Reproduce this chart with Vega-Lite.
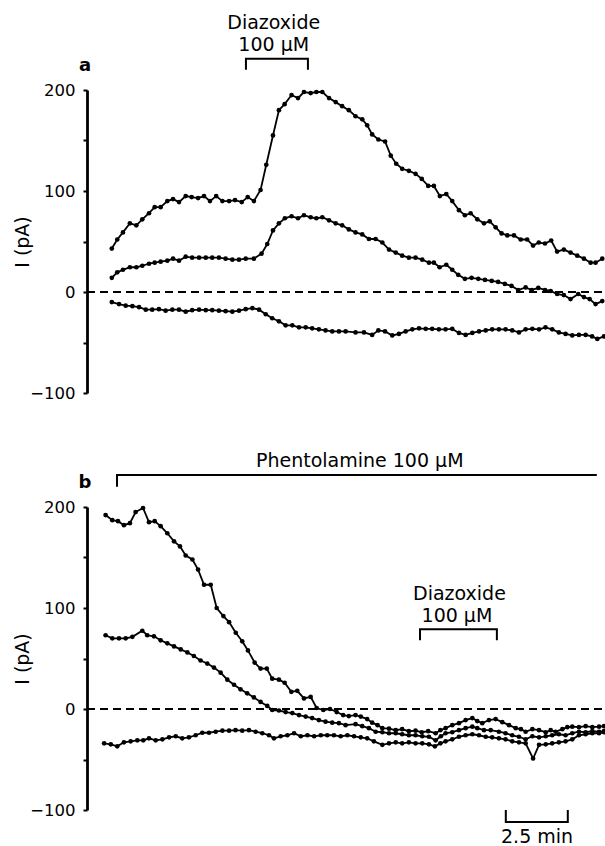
{
  "$schema": "https://vega.github.io/schema/vega-lite/v6.json",
  "padding": {"left": 13, "top": 14, "right": 0, "bottom": 0},
  "background": "white",
  "config": {
    "view": {"stroke": null},
    "font": "DejaVu Sans",
    "axis": {"grid": false}
  },
  "datasets": {
    "zero": [{"t0": 0, "t1": 20.85, "v": 0}],
    "ticks": [{"v": -100}, {"v": -50}, {"v": 0}, {"v": 50}, {"v": 100}, {"v": 150}, {"v": 200}],
    "a_traces": [
      {"s":"a1","t":1.00,"v":43},{"s":"a1","t":1.22,"v":52},{"s":"a1","t":1.45,"v":59},{"s":"a1","t":1.73,"v":68},{"s":"a1","t":1.99,"v":66},{"s":"a1","t":2.23,"v":72},{"s":"a1","t":2.50,"v":78},{"s":"a1","t":2.73,"v":84},{"s":"a1","t":2.97,"v":84},{"s":"a1","t":3.24,"v":90},{"s":"a1","t":3.47,"v":92},{"s":"a1","t":3.71,"v":89},{"s":"a1","t":3.98,"v":95},{"s":"a1","t":4.22,"v":94},{"s":"a1","t":4.48,"v":93},{"s":"a1","t":4.72,"v":95},{"s":"a1","t":4.96,"v":90},{"s":"a1","t":5.21,"v":95},{"s":"a1","t":5.46,"v":90},{"s":"a1","t":5.73,"v":90},{"s":"a1","t":5.97,"v":91},{"s":"a1","t":6.24,"v":89},{"s":"a1","t":6.48,"v":94},{"s":"a1","t":6.73,"v":90},{"s":"a1","t":7.00,"v":101},{"s":"a1","t":7.23,"v":126},{"s":"a1","t":7.50,"v":155},{"s":"a1","t":7.74,"v":180},{"s":"a1","t":7.97,"v":186},{"s":"a1","t":8.25,"v":195},{"s":"a1","t":8.51,"v":192},{"s":"a1","t":8.75,"v":198},{"s":"a1","t":9.02,"v":197},{"s":"a1","t":9.25,"v":198},{"s":"a1","t":9.49,"v":198},{"s":"a1","t":9.76,"v":192},{"s":"a1","t":10.03,"v":188},{"s":"a1","t":10.29,"v":184},{"s":"a1","t":10.56,"v":180},{"s":"a1","t":10.83,"v":174},{"s":"a1","t":11.10,"v":171},{"s":"a1","t":11.30,"v":165},{"s":"a1","t":11.50,"v":156},{"s":"a1","t":11.75,"v":151},{"s":"a1","t":12.02,"v":149},{"s":"a1","t":12.25,"v":135},{"s":"a1","t":12.47,"v":127},{"s":"a1","t":12.71,"v":122},{"s":"a1","t":12.98,"v":120},{"s":"a1","t":13.25,"v":117},{"s":"a1","t":13.50,"v":112},{"s":"a1","t":13.76,"v":105},{"s":"a1","t":13.99,"v":105},{"s":"a1","t":14.23,"v":95},{"s":"a1","t":14.49,"v":97},{"s":"a1","t":14.73,"v":90},{"s":"a1","t":15.00,"v":81},{"s":"a1","t":15.24,"v":76},{"s":"a1","t":15.47,"v":78},{"s":"a1","t":15.74,"v":72},{"s":"a1","t":16.01,"v":68},{"s":"a1","t":16.24,"v":70},{"s":"a1","t":16.48,"v":64},{"s":"a1","t":16.72,"v":58},{"s":"a1","t":16.95,"v":56},{"s":"a1","t":17.22,"v":56},{"s":"a1","t":17.49,"v":52},{"s":"a1","t":17.75,"v":52},{"s":"a1","t":17.99,"v":46},{"s":"a1","t":18.22,"v":49},{"s":"a1","t":18.47,"v":48},{"s":"a1","t":18.72,"v":51},{"s":"a1","t":18.96,"v":40},{"s":"a1","t":19.23,"v":42},{"s":"a1","t":19.50,"v":39},{"s":"a1","t":19.77,"v":36},{"s":"a1","t":20.04,"v":33},{"s":"a1","t":20.31,"v":29},{"s":"a1","t":20.51,"v":29},{"s":"a1","t":20.78,"v":33},
      {"s":"a2","t":1.00,"v":14},{"s":"a2","t":1.22,"v":19.5},{"s":"a2","t":1.45,"v":22},{"s":"a2","t":1.73,"v":24.5},{"s":"a2","t":1.99,"v":24.5},{"s":"a2","t":2.23,"v":26},{"s":"a2","t":2.50,"v":28},{"s":"a2","t":2.73,"v":29},{"s":"a2","t":2.97,"v":30},{"s":"a2","t":3.24,"v":31},{"s":"a2","t":3.47,"v":33},{"s":"a2","t":3.71,"v":31},{"s":"a2","t":3.98,"v":35},{"s":"a2","t":4.24,"v":34},{"s":"a2","t":4.52,"v":34},{"s":"a2","t":4.79,"v":34},{"s":"a2","t":5.05,"v":34},{"s":"a2","t":5.32,"v":34},{"s":"a2","t":5.59,"v":33},{"s":"a2","t":5.86,"v":32},{"s":"a2","t":6.13,"v":32},{"s":"a2","t":6.40,"v":33},{"s":"a2","t":6.73,"v":33},{"s":"a2","t":7.04,"v":38},{"s":"a2","t":7.27,"v":47.5},{"s":"a2","t":7.50,"v":61},{"s":"a2","t":7.74,"v":68},{"s":"a2","t":7.98,"v":73},{"s":"a2","t":8.25,"v":75},{"s":"a2","t":8.51,"v":73},{"s":"a2","t":8.75,"v":76},{"s":"a2","t":9.02,"v":74},{"s":"a2","t":9.25,"v":73},{"s":"a2","t":9.49,"v":74},{"s":"a2","t":9.76,"v":71},{"s":"a2","t":10.03,"v":68},{"s":"a2","t":10.29,"v":66},{"s":"a2","t":10.56,"v":62},{"s":"a2","t":10.83,"v":59},{"s":"a2","t":11.10,"v":57},{"s":"a2","t":11.37,"v":52.5},{"s":"a2","t":11.64,"v":52.5},{"s":"a2","t":11.91,"v":49},{"s":"a2","t":12.18,"v":42},{"s":"a2","t":12.45,"v":39},{"s":"a2","t":12.71,"v":36},{"s":"a2","t":12.98,"v":34},{"s":"a2","t":13.25,"v":34},{"s":"a2","t":13.52,"v":32},{"s":"a2","t":13.79,"v":29},{"s":"a2","t":13.99,"v":29},{"s":"a2","t":14.22,"v":24.5},{"s":"a2","t":14.49,"v":27},{"s":"a2","t":14.73,"v":22},{"s":"a2","t":14.97,"v":17},{"s":"a2","t":15.24,"v":13},{"s":"a2","t":15.51,"v":14},{"s":"a2","t":15.78,"v":13},{"s":"a2","t":16.05,"v":12},{"s":"a2","t":16.32,"v":11},{"s":"a2","t":16.58,"v":10},{"s":"a2","t":16.85,"v":8},{"s":"a2","t":17.12,"v":6},{"s":"a2","t":17.39,"v":2},{"s":"a2","t":17.69,"v":4.5},{"s":"a2","t":17.93,"v":2},{"s":"a2","t":18.20,"v":4},{"s":"a2","t":18.47,"v":2},{"s":"a2","t":18.70,"v":1},{"s":"a2","t":18.96,"v":-2},{"s":"a2","t":19.23,"v":-3},{"s":"a2","t":19.50,"v":-7},{"s":"a2","t":19.81,"v":-2},{"s":"a2","t":20.04,"v":-5},{"s":"a2","t":20.27,"v":-7},{"s":"a2","t":20.51,"v":-12},{"s":"a2","t":20.78,"v":-9},
      {"s":"a3","t":1.00,"v":-10},{"s":"a3","t":1.29,"v":-12},{"s":"a3","t":1.56,"v":-13.5},{"s":"a3","t":1.83,"v":-14},{"s":"a3","t":2.10,"v":-15},{"s":"a3","t":2.37,"v":-17.5},{"s":"a3","t":2.63,"v":-17.5},{"s":"a3","t":2.90,"v":-17},{"s":"a3","t":3.17,"v":-18.5},{"s":"a3","t":3.44,"v":-17.5},{"s":"a3","t":3.71,"v":-17.5},{"s":"a3","t":3.98,"v":-19.5},{"s":"a3","t":4.24,"v":-18},{"s":"a3","t":4.52,"v":-17.5},{"s":"a3","t":4.79,"v":-18},{"s":"a3","t":5.05,"v":-18},{"s":"a3","t":5.32,"v":-18.5},{"s":"a3","t":5.59,"v":-19},{"s":"a3","t":5.86,"v":-19.5},{"s":"a3","t":6.13,"v":-18.5},{"s":"a3","t":6.40,"v":-17},{"s":"a3","t":6.67,"v":-16},{"s":"a3","t":6.94,"v":-17.5},{"s":"a3","t":7.21,"v":-22},{"s":"a3","t":7.47,"v":-26},{"s":"a3","t":7.74,"v":-29},{"s":"a3","t":8.01,"v":-33},{"s":"a3","t":8.28,"v":-33},{"s":"a3","t":8.55,"v":-35},{"s":"a3","t":8.82,"v":-35},{"s":"a3","t":9.08,"v":-36},{"s":"a3","t":9.35,"v":-37},{"s":"a3","t":9.62,"v":-38},{"s":"a3","t":9.89,"v":-39},{"s":"a3","t":10.16,"v":-39},{"s":"a3","t":10.43,"v":-39},{"s":"a3","t":10.83,"v":-40},{"s":"a3","t":11.17,"v":-40},{"s":"a3","t":11.50,"v":-42.5},{"s":"a3","t":11.75,"v":-38},{"s":"a3","t":12.02,"v":-39},{"s":"a3","t":12.31,"v":-43},{"s":"a3","t":12.58,"v":-41.5},{"s":"a3","t":12.85,"v":-39},{"s":"a3","t":13.12,"v":-37},{"s":"a3","t":13.39,"v":-36},{"s":"a3","t":13.66,"v":-36.5},{"s":"a3","t":13.92,"v":-36.5},{"s":"a3","t":14.19,"v":-37},{"s":"a3","t":14.46,"v":-37},{"s":"a3","t":14.73,"v":-36.5},{"s":"a3","t":15.00,"v":-40.5},{"s":"a3","t":15.27,"v":-42.5},{"s":"a3","t":15.54,"v":-40.5},{"s":"a3","t":15.81,"v":-39},{"s":"a3","t":16.08,"v":-38},{"s":"a3","t":16.34,"v":-37},{"s":"a3","t":16.61,"v":-37},{"s":"a3","t":16.88,"v":-37},{"s":"a3","t":17.15,"v":-38},{"s":"a3","t":17.42,"v":-40},{"s":"a3","t":17.69,"v":-37},{"s":"a3","t":17.96,"v":-36.5},{"s":"a3","t":18.23,"v":-37},{"s":"a3","t":18.49,"v":-35},{"s":"a3","t":18.76,"v":-37},{"s":"a3","t":19.03,"v":-40},{"s":"a3","t":19.30,"v":-41.5},{"s":"a3","t":19.57,"v":-43},{"s":"a3","t":19.84,"v":-42.5},{"s":"a3","t":20.11,"v":-42.5},{"s":"a3","t":20.37,"v":-44},{"s":"a3","t":20.58,"v":-46.5},{"s":"a3","t":20.85,"v":-44}
    ],
    "b_traces": [
      {"s":"b1","t":0.75,"v":192},{"s":"b1","t":1.02,"v":187},{"s":"b1","t":1.25,"v":186},{"s":"b1","t":1.49,"v":182},{"s":"b1","t":1.73,"v":184},{"s":"b1","t":1.96,"v":195},{"s":"b1","t":2.26,"v":199},{"s":"b1","t":2.50,"v":185},{"s":"b1","t":2.73,"v":186},{"s":"b1","t":2.97,"v":181},{"s":"b1","t":3.24,"v":174},{"s":"b1","t":3.51,"v":166},{"s":"b1","t":3.75,"v":161},{"s":"b1","t":3.98,"v":152},{"s":"b1","t":4.25,"v":148},{"s":"b1","t":4.48,"v":138},{"s":"b1","t":4.72,"v":123},{"s":"b1","t":4.99,"v":123},{"s":"b1","t":5.23,"v":100},{"s":"b1","t":5.50,"v":92},{"s":"b1","t":5.73,"v":86},{"s":"b1","t":6.00,"v":75.5},{"s":"b1","t":6.26,"v":67},{"s":"b1","t":6.49,"v":58},{"s":"b1","t":6.76,"v":46},{"s":"b1","t":7.00,"v":40},{"s":"b1","t":7.25,"v":40},{"s":"b1","t":7.47,"v":30},{"s":"b1","t":7.74,"v":29},{"s":"b1","t":7.97,"v":26},{"s":"b1","t":8.24,"v":17},{"s":"b1","t":8.48,"v":18},{"s":"b1","t":8.75,"v":10.5},{"s":"b1","t":9.02,"v":12},{"s":"b1","t":9.26,"v":1},{"s":"b1","t":9.53,"v":-1},{"s":"b1","t":9.80,"v":0},{"s":"b1","t":10.07,"v":-3},{"s":"b1","t":10.33,"v":-6},{"s":"b1","t":10.56,"v":-7},{"s":"b1","t":10.83,"v":-6},{"s":"b1","t":11.04,"v":-7.5},{"s":"b1","t":11.30,"v":-10},{"s":"b1","t":11.50,"v":-13.5},{"s":"b1","t":11.72,"v":-16},{"s":"b1","t":11.91,"v":-19},{"s":"b1","t":12.18,"v":-19.5},{"s":"b1","t":12.45,"v":-21},{"s":"b1","t":12.71,"v":-20},{"s":"b1","t":12.98,"v":-22},{"s":"b1","t":13.25,"v":-21.5},{"s":"b1","t":13.50,"v":-23},{"s":"b1","t":13.76,"v":-22},{"s":"b1","t":14.06,"v":-24},{"s":"b1","t":14.25,"v":-21},{"s":"b1","t":14.46,"v":-19},{"s":"b1","t":14.73,"v":-16},{"s":"b1","t":15.00,"v":-14},{"s":"b1","t":15.27,"v":-11},{"s":"b1","t":15.54,"v":-9},{"s":"b1","t":15.74,"v":-12},{"s":"b1","t":15.94,"v":-14},{"s":"b1","t":16.21,"v":-11},{"s":"b1","t":16.48,"v":-10},{"s":"b1","t":16.75,"v":-13},{"s":"b1","t":17.02,"v":-16},{"s":"b1","t":17.29,"v":-19},{"s":"b1","t":17.50,"v":-20},{"s":"b1","t":17.69,"v":-22.5},{"s":"b1","t":17.96,"v":-20},{"s":"b1","t":18.23,"v":-21},{"s":"b1","t":18.50,"v":-23},{"s":"b1","t":18.70,"v":-21},{"s":"b1","t":18.90,"v":-22.5},{"s":"b1","t":19.17,"v":-20},{"s":"b1","t":19.37,"v":-18},{"s":"b1","t":19.57,"v":-17.5},{"s":"b1","t":19.84,"v":-18},{"s":"b1","t":20.11,"v":-17},{"s":"b1","t":20.38,"v":-18},{"s":"b1","t":20.65,"v":-17.5},{"s":"b1","t":20.85,"v":-17},
      {"s":"b2","t":0.75,"v":73},{"s":"b2","t":1.02,"v":70},{"s":"b2","t":1.29,"v":70},{"s":"b2","t":1.56,"v":70},{"s":"b2","t":1.83,"v":71.5},{"s":"b2","t":2.23,"v":77.5},{"s":"b2","t":2.43,"v":73},{"s":"b2","t":2.70,"v":72},{"s":"b2","t":2.97,"v":68},{"s":"b2","t":3.24,"v":65},{"s":"b2","t":3.51,"v":62},{"s":"b2","t":3.78,"v":59},{"s":"b2","t":4.05,"v":56},{"s":"b2","t":4.31,"v":52.5},{"s":"b2","t":4.58,"v":48},{"s":"b2","t":4.85,"v":45},{"s":"b2","t":5.12,"v":41},{"s":"b2","t":5.39,"v":36},{"s":"b2","t":5.66,"v":29},{"s":"b2","t":5.93,"v":24},{"s":"b2","t":6.19,"v":19.5},{"s":"b2","t":6.46,"v":15.5},{"s":"b2","t":6.73,"v":11.5},{"s":"b2","t":7.00,"v":7},{"s":"b2","t":7.27,"v":3},{"s":"b2","t":7.47,"v":-1},{"s":"b2","t":7.74,"v":-1.5},{"s":"b2","t":8.01,"v":-3},{"s":"b2","t":8.28,"v":-4},{"s":"b2","t":8.55,"v":-6},{"s":"b2","t":8.82,"v":-7.5},{"s":"b2","t":9.08,"v":-9},{"s":"b2","t":9.35,"v":-11},{"s":"b2","t":9.62,"v":-12.5},{"s":"b2","t":9.89,"v":-13.5},{"s":"b2","t":10.16,"v":-14},{"s":"b2","t":10.43,"v":-16},{"s":"b2","t":10.83,"v":-15},{"s":"b2","t":11.10,"v":-17},{"s":"b2","t":11.37,"v":-19},{"s":"b2","t":11.64,"v":-22.5},{"s":"b2","t":11.91,"v":-23},{"s":"b2","t":12.18,"v":-24},{"s":"b2","t":12.45,"v":-24},{"s":"b2","t":12.71,"v":-25},{"s":"b2","t":12.98,"v":-26},{"s":"b2","t":13.25,"v":-26},{"s":"b2","t":13.52,"v":-27},{"s":"b2","t":13.79,"v":-27.5},{"s":"b2","t":14.06,"v":-31},{"s":"b2","t":14.27,"v":-27},{"s":"b2","t":14.46,"v":-24},{"s":"b2","t":14.73,"v":-23},{"s":"b2","t":15.00,"v":-21},{"s":"b2","t":15.27,"v":-19},{"s":"b2","t":15.54,"v":-17.5},{"s":"b2","t":15.74,"v":-19},{"s":"b2","t":16.01,"v":-21},{"s":"b2","t":16.28,"v":-21},{"s":"b2","t":16.61,"v":-22.5},{"s":"b2","t":16.88,"v":-24},{"s":"b2","t":17.15,"v":-26},{"s":"b2","t":17.42,"v":-27.5},{"s":"b2","t":17.69,"v":-30},{"s":"b2","t":17.96,"v":-27},{"s":"b2","t":18.23,"v":-28},{"s":"b2","t":18.50,"v":-27},{"s":"b2","t":18.76,"v":-26},{"s":"b2","t":19.03,"v":-25},{"s":"b2","t":19.30,"v":-26},{"s":"b2","t":19.57,"v":-24},{"s":"b2","t":19.84,"v":-22.5},{"s":"b2","t":20.11,"v":-23},{"s":"b2","t":20.38,"v":-22},{"s":"b2","t":20.65,"v":-22.5},{"s":"b2","t":20.85,"v":-22},
      {"s":"b3","t":0.69,"v":-34},{"s":"b3","t":0.96,"v":-35},{"s":"b3","t":1.22,"v":-37},{"s":"b3","t":1.49,"v":-33},{"s":"b3","t":1.76,"v":-32},{"s":"b3","t":2.03,"v":-31},{"s":"b3","t":2.27,"v":-31},{"s":"b3","t":2.50,"v":-29},{"s":"b3","t":2.77,"v":-31},{"s":"b3","t":3.04,"v":-30},{"s":"b3","t":3.31,"v":-28},{"s":"b3","t":3.58,"v":-27},{"s":"b3","t":3.84,"v":-29},{"s":"b3","t":4.11,"v":-28},{"s":"b3","t":4.38,"v":-26},{"s":"b3","t":4.65,"v":-23.5},{"s":"b3","t":4.92,"v":-23.5},{"s":"b3","t":5.19,"v":-22.5},{"s":"b3","t":5.46,"v":-21.5},{"s":"b3","t":5.73,"v":-21.5},{"s":"b3","t":5.99,"v":-21},{"s":"b3","t":6.26,"v":-21.5},{"s":"b3","t":6.53,"v":-21},{"s":"b3","t":6.80,"v":-22.5},{"s":"b3","t":7.07,"v":-24},{"s":"b3","t":7.34,"v":-26},{"s":"b3","t":7.54,"v":-29},{"s":"b3","t":7.81,"v":-27},{"s":"b3","t":8.08,"v":-26},{"s":"b3","t":8.35,"v":-24},{"s":"b3","t":8.62,"v":-27},{"s":"b3","t":8.89,"v":-26},{"s":"b3","t":9.16,"v":-27},{"s":"b3","t":9.43,"v":-26},{"s":"b3","t":9.69,"v":-26},{"s":"b3","t":9.96,"v":-26},{"s":"b3","t":10.23,"v":-27},{"s":"b3","t":10.50,"v":-26},{"s":"b3","t":10.77,"v":-27},{"s":"b3","t":11.04,"v":-28},{"s":"b3","t":11.30,"v":-29},{"s":"b3","t":11.57,"v":-32},{"s":"b3","t":11.91,"v":-35.5},{"s":"b3","t":12.18,"v":-34},{"s":"b3","t":12.45,"v":-33},{"s":"b3","t":12.71,"v":-34},{"s":"b3","t":12.98,"v":-33},{"s":"b3","t":13.25,"v":-34},{"s":"b3","t":13.52,"v":-34},{"s":"b3","t":13.79,"v":-35},{"s":"b3","t":14.03,"v":-37},{"s":"b3","t":14.25,"v":-34},{"s":"b3","t":14.46,"v":-32},{"s":"b3","t":14.73,"v":-30},{"s":"b3","t":15.00,"v":-27.5},{"s":"b3","t":15.27,"v":-26},{"s":"b3","t":15.54,"v":-25},{"s":"b3","t":15.81,"v":-26},{"s":"b3","t":16.08,"v":-27.5},{"s":"b3","t":16.34,"v":-28},{"s":"b3","t":16.61,"v":-29},{"s":"b3","t":16.88,"v":-30},{"s":"b3","t":17.15,"v":-32},{"s":"b3","t":17.42,"v":-33},{"s":"b3","t":17.69,"v":-34},{"s":"b3","t":17.99,"v":-49},{"s":"b3","t":18.23,"v":-35.5},{"s":"b3","t":18.50,"v":-35},{"s":"b3","t":18.76,"v":-34},{"s":"b3","t":19.03,"v":-33},{"s":"b3","t":19.30,"v":-32},{"s":"b3","t":19.57,"v":-30},{"s":"b3","t":19.84,"v":-26},{"s":"b3","t":20.11,"v":-25},{"s":"b3","t":20.38,"v":-24},{"s":"b3","t":20.65,"v":-24},{"s":"b3","t":20.85,"v":-23}
    ],
    "a_brackets": [
      {"br":"diaz","o":1,"t":6.41,"v":220},{"br":"diaz","o":2,"t":6.41,"v":231},{"br":"diaz","o":3,"t":8.91,"v":231},{"br":"diaz","o":4,"t":8.91,"v":220}
    ],
    "b_brackets": [
      {"br":"phen","o":1,"t":1.21,"v":220},{"br":"phen","o":2,"t":1.21,"v":231.7},{"br":"phen","o":3,"t":20.56,"v":231.7},
      {"br":"diaz","o":1,"t":13.43,"v":68},{"br":"diaz","o":2,"t":13.43,"v":79},{"br":"diaz","o":3,"t":16.53,"v":79},{"br":"diaz","o":4,"t":16.53,"v":68},
      {"br":"scale","o":1,"t":16.89,"v":-100},{"br":"scale","o":2,"t":16.89,"v":-112},{"br":"scale","o":3,"t":19.39,"v":-112},{"br":"scale","o":4,"t":19.39,"v":-100}
    ],
    "a_notes": [
      {"t":7.53,"v":260,"label":"Diazoxide"},{"t":7.53,"v":238.6,"label":"100 μM"}
    ],
    "b_notes": [
      {"t":11.0,"v":239.6,"label":"Phentolamine 100 μM"},{"t":15.02,"v":108,"label":"Diazoxide"},{"t":14.92,"v":86,"label":"100 μM"},{"t":18.15,"v":-132.7,"label":"2.5 min"}
    ],
    "a_letter": [{"t":0,"v":219,"label":"a"}],
    "b_letter": [{"t":0,"v":219,"label":"b"}]
  },
  "spacing": 114,
  "bounds": "flush",
  "vconcat": [
    {
      "width": 517,
      "height": 303,
      "encoding": {
        "x": {"field": "t", "type": "quantitative", "scale": {"domain": [0, 20.85], "nice": false, "zero": false}, "axis": null},
        "y": {"field": "v", "type": "quantitative", "scale": {"domain": [-100, 200], "nice": false, "zero": false},
          "axis": {"values": [-100, -50, 0, 50, 100, 150, 200], "labelExpr": "datum.value == -100 ? '−100' : (datum.value % 100 == 0 ? datum.label : '')",
            "domainColor": "black", "domainWidth": 2.8, "tickColor": "black", "tickWidth": 2, "tickSize": 4, "labelPadding": 8,
            "labelFont": "DejaVu Sans", "labelFontSize": 16.5, "labelColor": "black",
            "title": "I (pA)", "titleFont": "DejaVu Sans", "titleFontSize": 19, "titleFontWeight": "normal", "titleColor": "black",
            "titleX": -65, "titleY": 151.5, "titleAlign": "center", "titleBaseline": "middle", "titleAngle": -90}}
      },
      "layer": [
        {"data": {"name": "zero"}, "mark": {"type": "rule", "strokeDash": [8, 5], "strokeWidth": 2, "color": "black"}, "encoding": {"x": {"field": "t0", "type": "quantitative"}, "x2": {"field": "t1"}, "y": {"field": "v", "type": "quantitative"}}},
        {"data": {"name": "ticks"}, "mark": {"type": "point", "shape": "diamond", "filled": true, "size": 30, "color": "black", "opacity": 1}, "encoding": {"x": {"datum": 0}}},
        {"data": {"name": "a_traces"}, "mark": {"type": "line", "color": "black", "strokeWidth": 1.8, "point": {"filled": true, "size": 22, "color": "black", "opacity": 1}}, "encoding": {"detail": {"field": "s"}}},
        {"data": {"name": "a_brackets"}, "mark": {"type": "line", "color": "black", "strokeWidth": 2}, "encoding": {"detail": {"field": "br"}, "order": {"field": "o"}}},
        {"data": {"name": "a_notes"}, "mark": {"type": "text", "font": "DejaVu Sans", "fontSize": 19, "align": "center", "baseline": "alphabetic", "color": "black"}, "encoding": {"text": {"field": "label"}}},
        {"data": {"name": "a_letter"}, "mark": {"type": "text", "font": "DejaVu Sans", "fontSize": 18, "fontWeight": "bold", "align": "center", "baseline": "alphabetic", "dx": -2, "color": "black"}, "encoding": {"text": {"field": "label"}}}
      ]
    },
    {
      "width": 517,
      "height": 303,
      "encoding": {
        "x": {"field": "t", "type": "quantitative", "scale": {"domain": [0, 20.85], "nice": false, "zero": false}, "axis": null},
        "y": {"field": "v", "type": "quantitative", "scale": {"domain": [-100, 200], "nice": false, "zero": false},
          "axis": {"values": [-100, -50, 0, 50, 100, 150, 200], "labelExpr": "datum.value == -100 ? '−100' : (datum.value % 100 == 0 ? datum.label : '')",
            "domainColor": "black", "domainWidth": 2.8, "tickColor": "black", "tickWidth": 2, "tickSize": 4, "labelPadding": 8,
            "labelFont": "DejaVu Sans", "labelFontSize": 16.5, "labelColor": "black",
            "title": "I (pA)", "titleFont": "DejaVu Sans", "titleFontSize": 19, "titleFontWeight": "normal", "titleColor": "black",
            "titleX": -65, "titleY": 151.5, "titleAlign": "center", "titleBaseline": "middle", "titleAngle": -90}}
      },
      "layer": [
        {"data": {"name": "zero"}, "mark": {"type": "rule", "strokeDash": [8, 5], "strokeWidth": 2, "color": "black"}, "encoding": {"x": {"field": "t0", "type": "quantitative"}, "x2": {"field": "t1"}, "y": {"field": "v", "type": "quantitative"}}},
        {"data": {"name": "ticks"}, "mark": {"type": "point", "shape": "diamond", "filled": true, "size": 30, "color": "black", "opacity": 1}, "encoding": {"x": {"datum": 0}}},
        {"data": {"name": "b_traces"}, "mark": {"type": "line", "color": "black", "strokeWidth": 1.8, "point": {"filled": true, "size": 22, "color": "black", "opacity": 1}}, "encoding": {"detail": {"field": "s"}}},
        {"data": {"name": "b_brackets"}, "mark": {"type": "line", "color": "black", "strokeWidth": 2}, "encoding": {"detail": {"field": "br"}, "order": {"field": "o"}}},
        {"data": {"name": "b_notes"}, "mark": {"type": "text", "font": "DejaVu Sans", "fontSize": 19, "align": "center", "baseline": "alphabetic", "color": "black"}, "encoding": {"text": {"field": "label"}}},
        {"data": {"name": "b_letter"}, "mark": {"type": "text", "font": "DejaVu Sans", "fontSize": 18, "fontWeight": "bold", "align": "center", "baseline": "alphabetic", "dx": -2, "color": "black"}, "encoding": {"text": {"field": "label"}}}
      ]
    }
  ]
}
